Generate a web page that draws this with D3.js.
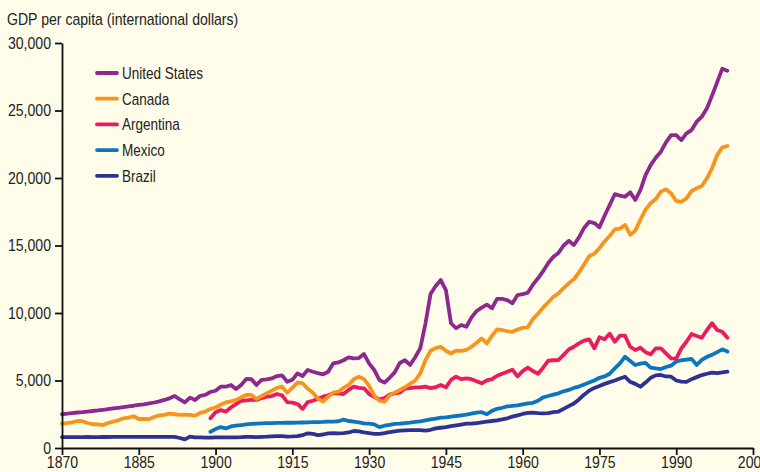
<!DOCTYPE html>
<html>
<head>
<meta charset="utf-8">
<script src="https://cdn.jsdelivr.net/npm/d3@7"></script>
<style>
    html, body { margin: 0; padding: 0; background: #fffdea; }
    svg { display: block; }
    .axis path, .axis line { stroke: #111; stroke-width: 1.8; }
    .axis text { font-family: "Liberation Sans", Arial, sans-serif; font-size: 16px; fill: #222; }
</style>
</head>
<body>
<div id="chart"></div>
<script>
// GDP per capita, 1870-2000

const xTicks = [1870, 1885, 1900, 1915, 1930, 1945, 1960, 1975, 1990, 2005];
const yTicks = [0, 5000, 10000, 15000, 20000, 25000, 30000];

const usStart = 1870;
const usValues = [
    2500, 2540, 2590, 2630, 2660, 2700, 2740, 2780, 2830, 2880,
    2930, 2980, 3030, 3080, 3130, 3190, 3240, 3300, 3370, 3450,
    3560, 3680, 3850, 3600, 3380, 3730, 3550, 3870, 3930, 4150,
    4240, 4540, 4540, 4670, 4370, 4670, 5110, 5100, 4670, 5040,
    5080, 5150, 5330, 5380, 4910, 5050, 5530, 5330, 5780, 5650,
    5550, 5460, 5650, 6270, 6340, 6500, 6720, 6640, 6660, 6960,
    6270, 5780, 5040, 4840, 5200, 5600, 6300, 6500, 6150, 6720,
    7400, 9200, 11400, 12000, 12440, 11700, 9240, 8870, 9110, 8980,
    9680, 10150, 10400, 10620, 10350, 11050, 11040, 10950, 10720, 11330,
    11400, 11500, 12100, 12570, 13100, 13700, 14170, 14450, 15000, 15350,
    15040, 15600, 16300, 16760, 16660, 16350, 17200, 18000, 18800, 18700,
    18610, 18940, 18370, 19110, 20220, 20960, 21500, 21950, 22640, 23180,
    23180, 22810, 23300, 23550, 24170, 24540, 25160, 26100, 27100, 28100,
    27950
];

const canadaStart = 1870;
const canadaValues = [
    1800, 1850, 1900, 2000, 1980, 1850, 1760, 1750, 1700, 1850,
    1950, 2050, 2200, 2250, 2350, 2150, 2150, 2130, 2300, 2420,
    2450, 2550, 2500, 2450, 2480, 2450, 2400, 2600, 2700, 2900,
    3000, 3200, 3380, 3450, 3550, 3750, 3930, 3930, 3630, 3850,
    4050, 4250, 4450, 4540, 4100, 4450, 4850, 4800, 4400, 4100,
    3650, 3430, 3800, 4100, 4170, 4450, 4670, 5100, 5280, 5100,
    4600, 3900, 3500, 3430, 3900, 4100, 4300, 4500, 4750, 5000,
    5530, 6500, 7200, 7400, 7500, 7200, 7000, 7210, 7200, 7260,
    7500, 7800, 8120, 7750, 8300, 8790, 8740, 8650, 8610, 8780,
    8900, 8940, 9550, 9950, 10400, 10800, 11200, 11450, 11850, 12200,
    12500, 13000, 13600, 14200, 14400, 14800, 15300, 15700, 16200, 16250,
    16520, 15800, 16100, 16900, 17650, 18130, 18440, 18990, 19160, 18860,
    18300, 18240, 18490, 19040, 19240, 19410, 19980, 20720, 21700, 22270,
    22370
];

const argentinaStart = 1899;
const argentinaValues = [
    2200,
    2650, 2810, 2690, 3000, 3250, 3500, 3530, 3560, 3560, 3700,
    3800, 3850, 4000, 3900, 3400, 3360, 3260, 2900, 3400, 3500,
    3650, 3800, 3900, 4050, 4050, 4000, 4300, 4540, 4450, 4420,
    4000, 3800, 3600, 3700, 3950, 4050, 4100, 4400, 4440, 4490,
    4490, 4550, 4440, 4500, 4670, 4490, 5040, 5280, 5100, 5150,
    5100, 4950, 4790, 5010, 5100, 5350, 5500, 5650, 5800, 5300,
    5700, 5950, 5700, 5500, 5950, 6470, 6500, 6520, 6900, 7300,
    7500, 7750, 7950, 8050, 7380, 8200, 8050, 8470, 7870, 8320,
    8320, 7500, 7260, 7430, 7100, 6940, 7380, 7380, 7010, 6640,
    6620, 7380, 7870, 8450, 8300, 8170, 8740, 9240, 8740, 8610,
    8170
];

const mexicoStart = 1899;
const mexicoValues = [
    1200,
    1400, 1550, 1450, 1600, 1650, 1700, 1750, 1780, 1800, 1820,
    1840, 1850, 1860, 1860, 1870, 1870, 1880, 1890, 1900, 1910,
    1920, 1930, 1950, 1960, 1980, 2100, 2000, 1950, 1900, 1830,
    1800, 1750, 1550, 1650, 1720, 1780, 1800, 1850, 1880, 1930,
    1980, 2050, 2120, 2180, 2250, 2270, 2320, 2370, 2420, 2470,
    2550, 2620, 2650, 2500, 2750, 2900, 2980, 3080, 3120, 3150,
    3230, 3300, 3350, 3500, 3750, 3850, 3950, 4050, 4200, 4300,
    4450, 4550, 4700, 4850, 5000, 5200, 5300, 5500, 5900, 6270,
    6760, 6440, 6150, 6250, 6300, 5950, 5900, 5850, 6000, 6100,
    6400, 6500, 6550, 6600, 6150, 6520, 6750, 6900, 7100, 7310,
    7150
];

const brazilStart = 1870;
const brazilValues = [
    810, 810, 805, 810, 810, 815, 810, 810, 815, 815,
    820, 820, 820, 825, 825, 825, 830, 830, 830, 830,
    820, 820, 820, 740, 640, 840, 790, 780, 770, 770,
    780, 790, 780, 780, 790, 800, 820, 820, 800, 830,
    840, 860, 880, 880, 850, 860, 880, 950, 1090, 1050,
    960, 1000, 1090, 1100, 1090, 1100, 1150, 1260, 1230, 1150,
    1100, 1040, 1050, 1110, 1180, 1230, 1280, 1300, 1320, 1330,
    1330, 1280, 1350, 1450, 1500, 1550, 1620, 1680, 1740, 1800,
    1800, 1850, 1900, 1950, 2000, 2050, 2120, 2200, 2320, 2420,
    2520, 2600, 2620, 2580, 2560, 2580, 2650, 2700, 2900, 3100,
    3300, 3600, 3950, 4250, 4450, 4590, 4750, 4880, 5000, 5150,
    5280, 4900, 4750, 4540, 4850, 5200, 5380, 5410, 5300, 5280,
    5000, 4910, 4900, 5100, 5250, 5400, 5500, 5580, 5550, 5600,
    5650
];

const seriesNames = ['United States', 'Canada', 'Argentina', 'Mexico', 'Brazil'];
const seriesColors = ['#8c288e', '#f7941d', '#ec1a5e', '#0b76bf', '#2e3192'];
const seriesStarts = [usStart, canadaStart, argentinaStart, mexicoStart, brazilStart];
const seriesValues = [usValues, canadaValues, argentinaValues, mexicoValues, brazilValues];

// the reference uses a condensed face; squeeze Liberation Sans to match
const squeeze = 0.88;
const labelFont = '"Liberation Sans", Arial, sans-serif';

function createGdpChart() {
    const container = d3.select('#chart');
    container.html('');

    const W = 760, H = 472;
    const margin = { top: 43, right: 7, bottom: 24, left: 62 };
    const width = W - margin.left - margin.right;
    const height = H - margin.top - margin.bottom;

    const root = container.append('svg')
        .attr('width', W)
        .attr('height', H);

    root.append('rect')
        .attr('width', W)
        .attr('height', H)
        .attr('fill', '#fffdea');

    // Title
    root.append('text')
        .attr('transform', `translate(7,25) scale(${squeeze},1)`)
        .attr('font-family', labelFont)
        .attr('font-size', '16px')
        .attr('fill', '#222')
        .text('GDP per capita (international dollars)');

    const svg = root.append('g')
        .attr('transform', `translate(${margin.left},${margin.top})`);

    // Scales
    const x = d3.scaleLinear()
        .domain([1870, 2005])
        .range([0, width]);

    const y = d3.scaleLinear()
        .domain([0, 30000])
        .range([height, 0]);

    // Lines (drawn bottom-up so the US sits on top)
    const line = d3.line()
        .x(d => x(d.year))
        .y(d => y(d.value));

    const series = seriesNames.map((name, i) => ({
        name: name,
        color: seriesColors[i],
        points: seriesValues[i].map((v, j) => ({ year: seriesStarts[i] + j, value: v }))
    }));

    svg.selectAll('.country-line')
        .data(series.slice().reverse())
        .enter()
        .append('path')
        .attr('class', 'country-line')
        .attr('fill', 'none')
        .attr('stroke', d => d.color)
        .attr('stroke-width', 3.8)
        .attr('stroke-linejoin', 'round')
        .attr('stroke-linecap', 'round')
        .attr('d', d => line(d.points));

    // Axes
    const xAxis = svg.append('g')
        .attr('class', 'axis')
        .attr('transform', `translate(0,${height})`)
        .call(d3.axisBottom(x)
            .tickValues(xTicks)
            .tickFormat(d3.format('d'))
            .tickSize(7)
            .tickSizeOuter(0)
            .tickPadding(2));

    xAxis.selectAll('.tick text')
        .attr('transform', `scale(${squeeze},1)`);

    const yAxis = svg.append('g')
        .attr('class', 'axis')
        .call(d3.axisLeft(y)
            .tickValues(yTicks)
            .tickFormat(d3.format(','))
            .tickSize(7)
            .tickSizeOuter(0)
            .tickPadding(3));

    yAxis.selectAll('.tick text')
        .attr('x', -11 / squeeze)
        .attr('transform', `scale(${squeeze},1)`);

    // Legend
    const legend = svg.append('g')
        .attr('transform', 'translate(35, 30)');

    const item = legend.selectAll('.legend-item')
        .data(series)
        .enter()
        .append('g')
        .attr('class', 'legend-item')
        .attr('transform', (d, i) => `translate(0, ${i * 25.7})`);

    item.append('line')
        .attr('x1', 0)
        .attr('x2', 20)
        .attr('y1', 0)
        .attr('y2', 0)
        .attr('stroke', d => d.color)
        .attr('stroke-width', 3.8)
        .attr('stroke-linecap', 'round');

    item.append('text')
        .attr('transform', `translate(25,6) scale(${squeeze * 0.96},1)`)
        .attr('font-family', labelFont)
        .attr('font-size', '16px')
        .attr('fill', '#222')
        .text(d => d.name);
}

createGdpChart();
</script>
</body>
</html>
